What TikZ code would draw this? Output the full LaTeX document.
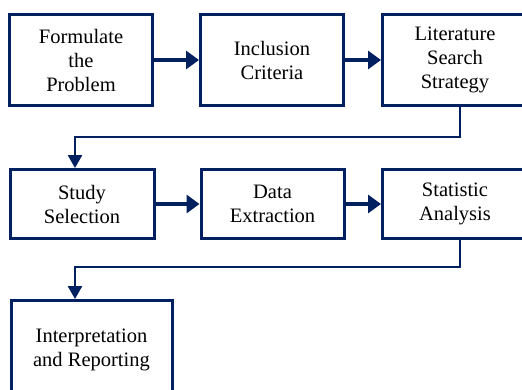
\documentclass[tikz,border=0pt]{standalone}
\usepackage{fontspec}
\setmainfont{Liberation Serif}
\newfontfamily\tnrfont{Liberation Serif}
\usetikzlibrary{arrows.meta,calc}
\definecolor{navy}{RGB}{0,32,96}
\tikzset{
  box/.style={draw=navy, line width=3pt, inner sep=0pt, align=center,
    font=\tnrfont\fontsize{20.5}{24}\selectfont, text=black},
  flow/.style={draw=navy, line width=3.8pt, -{Triangle[length=13pt,width=18pt]}},
  conn/.style={draw=navy, line width=2.6pt, -{Triangle[length=13pt,width=14pt]}}
}
\begin{document}
\begin{tikzpicture}[x=1pt,y=-1pt]
\useasboundingbox (0,0) rectangle (522,389);
\clip (0,0) rectangle (522,389);
\node[box, minimum width=143pt, minimum height=91pt] (a) at (81,60) {Formulate\\the\\Problem};
\node[box, minimum width=143pt, minimum height=91pt] (b) at (272,60) {Inclusion\\Criteria};
\node[box, minimum width=145pt, minimum height=91pt] (c) at (455,60) {Literature\\Search\\Strategy};
\node[box, minimum width=144pt, minimum height=69pt] (d) at (82,204) {Study\\Selection};
\node[box, minimum width=143pt, minimum height=69pt] (e) at (272.5,204) {Data\\Extraction};
\node[box, minimum width=145pt, minimum height=69pt] (f) at (455,204) {Statistic\\Analysis};
\node[box, minimum width=161pt, minimum height=99pt] (g) at (91.5,350) {Interpretation\\and Reporting};
\draw[flow] (a.east) -- (b.west);
\draw[flow] (b.east) -- (c.west);
\draw[flow] (d.east) -- (e.west);
\draw[flow] (e.east) -- (f.west);
\draw[conn] ([xshift=5pt]c.south) |- ([xshift=-7pt,yshift=31pt]d.north) -- ([xshift=-7pt]d.north);
\draw[conn] ([xshift=5pt]f.south) |- ([xshift=-16.5pt,yshift=32pt]g.north) -- ([xshift=-16.5pt]g.north);
\end{tikzpicture}
\end{document}
